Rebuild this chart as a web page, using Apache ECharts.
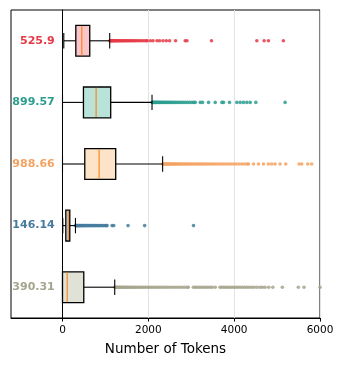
<!DOCTYPE html>
<html>
<head>
<meta charset="utf-8">
<script src="https://cdn.jsdelivr.net/npm/echarts@6/dist/echarts.min.js"></script>
<style>html,body{margin:0;padding:0;background:#fff}#c{width:344px;height:367px}</style>
</head>
<body>
<div id="c"></div>
<script>
// Categories (mean token counts shown as labels)
const categories = ['525.9', '899.57', '988.66', '146.14', '390.31'];
// Box statistics: [min, Q1, median, Q3, max]
const boxStats = [
  [30, 310, 450, 635, 1100],
  [0, 488, 783, 1123, 2086],
  [0, 519, 853, 1240, 2333],
  [7, 77, 132, 170, 302],
  [0, 0, 109, 496, 1217]
];
// Outliers per category
const outliers0 = [1105,1118,1132,1146,1160,1178,1195,1212,1230,1251,1270,1292,1315,1338,1360,1387,1410,1436,1462,1490,1518,1546,1575,1606,1638,1670,1702,1740,1778,1820,1862,1905,1950,1972,2047,2109,2202,2263,2342,2419,2495,2635,2860,2900,3472,4528,4698,4798,5147];
const outliers1 = [2090,2105,2121,2140,2160,2178,2199,2222,2246,2268,2293,2320,2348,2375,2403,2434,2466,2497,2530,2566,2602,2640,2680,2722,2766,2812,2860,2910,2962,3015,3060,3093,3209,3263,3403,3558,3714,3752,3891,4062,4140,4217,4295,4372,4505,5186];
const outliers2 = [2340,2356,2372,2390,2408,2427,2447,2468,2490,2512,2535,2559,2584,2610,2636,2663,2691,2720,2750,2781,2812,2845,2878,2912,2947,2983,3020,3058,3097,3137,3178,3220,3262,3305,3350,3396,3442,3490,3540,3592,3645,3700,3756,3812,3870,3930,3990,4050,4112,4176,4240,4300,4333,4450,4566,4682,4798,4876,4953,5070,5202,5512,5574,5714,5807];
const outliers3 = [305,318,332,347,362,378,395,412,430,449,468,488,509,530,552,575,598,622,647,672,698,725,752,780,809,838,868,898,930,962,995,1020,1039,1155,1194,1527,1914,3053];
const outliers4 = [1220,1238,1257,1277,1298,1320,1343,1367,1392,1418,1445,1473,1502,1532,1563,1595,1628,1662,1697,1733,1770,1808,1847,1887,1928,1970,2013,2057,2102,2148,2195,2243,2292,2342,2393,2445,2498,2552,2607,2663,2720,2778,2837,2896,2930,3050,3095,3140,3188,3236,3285,3335,3386,3438,3490,3560,3670,3712,3756,3800,3846,3892,3940,3988,4037,4087,4138,4190,4243,4297,4352,4408,4465,4530,4600,4660,4720,4805,4900,5123,5495,5628,6000];
const outlierSets = [outliers0, outliers1, outliers2, outliers3, outliers4];
const xTicks = [0, 2000, 4000, 6000];
const labelAt = -180;

const colors = ['#e63946', '#2a9d8f', '#f4a261', '#457b9d', '#a5a58d'];
const fills = ['#fac5c9', '#b9e3d9', '#fde3c8', '#c3d6e3', '#e1e2d6'];

const boxData = boxStats.map((s, i) => [i].concat(s));

const chart = echarts.init(document.getElementById('c'), null, {renderer: 'canvas'});

const scatterSeries = outlierSets.map((arr, i) => ({
  type: 'scatter',
  data: arr.map(v => [v, i]),
  symbol: 'circle',
  symbolSize: 3.6,
  itemStyle: {color: colors[i], opacity: 0.85},
  silent: true,
  z: 2
}));

chart.setOption({
  animation: false,
  grid: {left: 11, right: 24, top: 10, bottom: 49, show: true, borderColor: '#000', borderWidth: 1, backgroundColor: 'transparent'},
  xAxis: {
    type: 'value', min: -1200, max: 6000, splitNumber: 3,
    name: 'Number of Tokens', nameLocation: 'middle', nameGap: 24,
    nameTextStyle: {fontFamily: 'DejaVu Sans', fontSize: 13.5, color: '#000'},
    axisLine: {show: true, lineStyle: {color: '#000', width: 1}},
    axisTick: {show: true, length: 3.5, lineStyle: {color: '#000'}, customValues: xTicks},
    axisLabel: {fontFamily: 'DejaVu Sans', fontSize: 10.5, color: '#000', margin: 7, customValues: xTicks,
      formatter: function (v) { return String(v); }},
    splitLine: {show: true, lineStyle: {color: '#e3e3e3', width: 1}}
  },
  yAxis: {
    type: 'category', data: categories, inverse: true,
    axisLine: {show: true, lineStyle: {color: '#000'}},
    axisTick: {show: false}, axisLabel: {show: false}, splitLine: {show: false}
  },
  series: scatterSeries.concat([{
    type: 'custom',
    data: boxData,
    encode: {x: [1, 2, 3, 4, 5], y: 0},
    z: 5,
    silent: true,
    renderItem: function (params, api) {
      const i = api.value(0);
      const band = api.size([0, 1])[1];
      const h = band * 0.5;
      const pMin = api.coord([api.value(1), i]);
      const pQ1 = api.coord([api.value(2), i]);
      const pMed = api.coord([api.value(3), i]);
      const pQ3 = api.coord([api.value(4), i]);
      const pMax = api.coord([api.value(5), i]);
      const pLab = api.coord([labelAt, i]);
      const y = pMin[1];
      const ls = {stroke: '#000', lineWidth: 1.1};
      return {
        type: 'group',
        children: [
          {type: 'line', shape: {x1: pMin[0], y1: y, x2: pQ1[0], y2: y}, style: ls},
          {type: 'line', shape: {x1: pQ3[0], y1: y, x2: pMax[0], y2: y}, style: ls},
          {type: 'line', shape: {x1: pMin[0], y1: y - h / 4, x2: pMin[0], y2: y + h / 4}, style: ls},
          {type: 'line', shape: {x1: pMax[0], y1: y - h / 4, x2: pMax[0], y2: y + h / 4}, style: ls},
          {type: 'rect', shape: {x: pQ1[0], y: y - h / 2, width: pQ3[0] - pQ1[0], height: h}, style: {fill: fills[i], stroke: '#000', lineWidth: 1.3}},
          {type: 'line', shape: {x1: pMed[0], y1: y - h / 2 + 0.7, x2: pMed[0], y2: y + h / 2 - 0.7}, style: {stroke: '#ff7f0e', lineWidth: 1.1}},
          {type: 'text', style: {text: categories[i], x: pLab[0], y: y, align: 'right', verticalAlign: 'middle', fill: colors[i], font: 'bold 11px "DejaVu Sans"'}}
        ]
      };
    }
  }])
});
</script>
</body>
</html>
